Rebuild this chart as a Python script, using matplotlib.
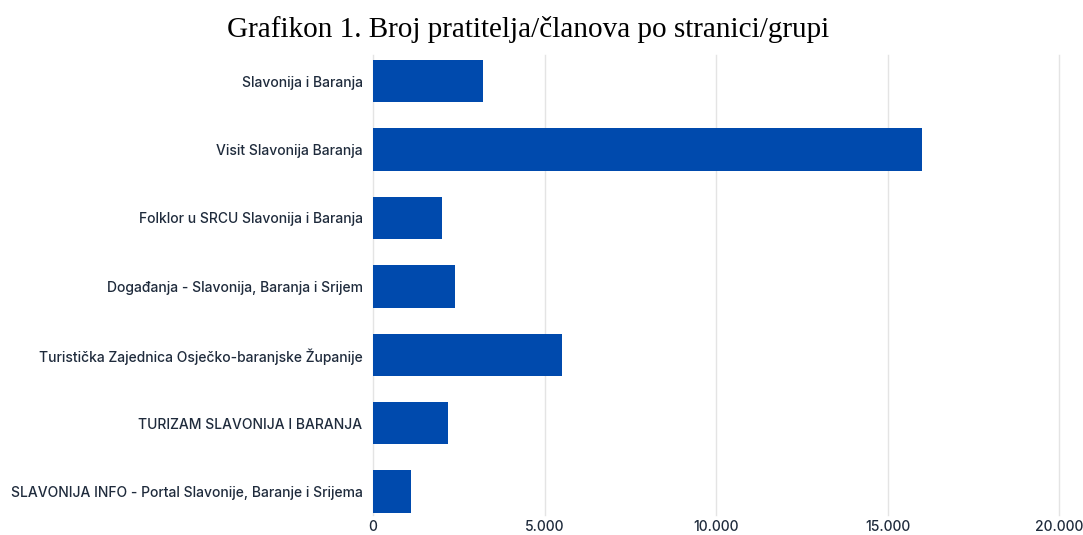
import matplotlib
matplotlib.use("Agg")
import matplotlib.pyplot as plt
from matplotlib.ticker import FuncFormatter

categories = [
    "Slavonija i Baranja",
    "Visit Slavonija Baranja",
    "Folklor u SRCU Slavonija i Baranja",
    "Događanja - Slavonija, Baranja i Srijem",
    "Turistička Zajednica Osječko-baranjske Županije",
    "TURIZAM SLAVONIJA I BARANJA",
    "SLAVONIJA INFO - Portal Slavonije, Baranje i Srijema",
]
followers = [3200, 16000, 2000, 2400, 5500, 2200, 1100]
x_ticks = [0, 5000, 10000, 15000, 20000]

bar_color = "#004aad"
text_color = "#1f2b3c"

fig = plt.figure(figsize=(10.83, 5.35), dpi=100)
ax = fig.add_axes([0.3444, 0.0374, 0.6335, 0.8598])

ypos = list(range(len(categories)))
ax.barh(ypos, followers, height=0.62, color=bar_color, zorder=3)

ax.set_xlim(0, 20000)
ax.set_ylim(6.34, -0.38)
ax.set_xticks(x_ticks)
ax.xaxis.set_major_formatter(FuncFormatter(lambda v, p: f"{int(v):,}".replace(",", ".")))
ax.set_yticks(ypos)
ax.set_yticklabels(categories)

ax.grid(axis="x", color="#e4e4e4", linewidth=1, zorder=0)
for gl in ax.get_xgridlines():
    gl.set_clip_on(False)
for s in ax.spines.values():
    s.set_visible(False)
ax.tick_params(axis="both", length=0, colors=text_color, labelsize=10)
ax.tick_params(axis="y", pad=7.5)
ax.tick_params(axis="x", pad=3.5)
for lbl in ax.get_xticklabels() + ax.get_yticklabels():
    lbl.set_fontfamily("Inter")
    lbl.set_fontweight("medium")

fig.text(0.488, 0.945, "Grafikon 1. Broj pratitelja/članova po stranici/grupi",
         ha="center", va="center", fontsize=21, family="Liberation Serif", color="black")

fig.savefig("out.png", dpi=100)
